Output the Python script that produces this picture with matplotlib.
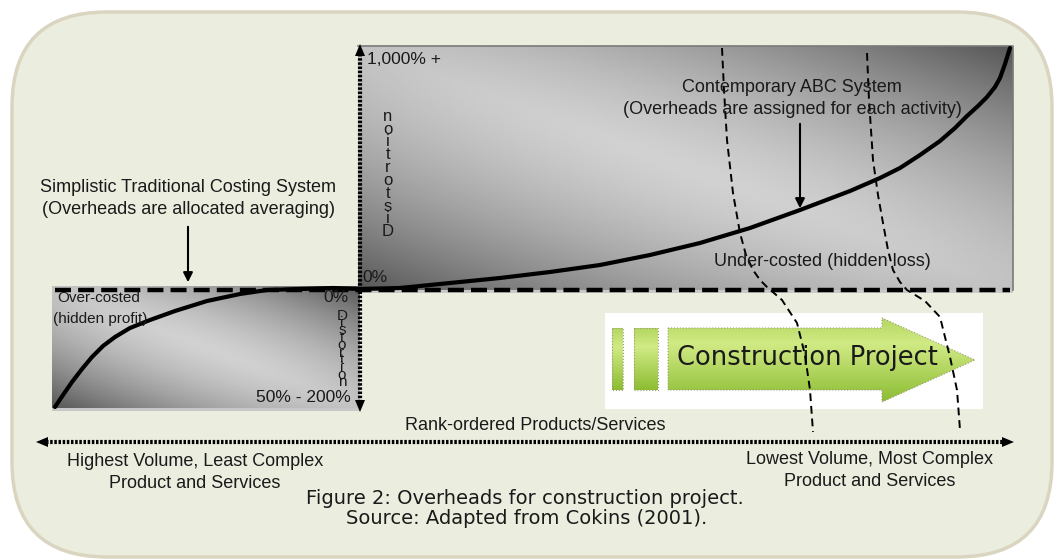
import numpy as np
import matplotlib
matplotlib.use("Agg")
import matplotlib.pyplot as plt
from matplotlib.patches import FancyBboxPatch, Rectangle, Polygon

W, H = 1054, 560

# ABC cost curve (under-costed side), figure pixels
abc_x = [360, 400, 450, 500, 550, 600, 650, 700, 750, 800, 850, 880, 900, 920, 940, 955,
         967, 978, 987, 995, 1000, 1005, 1010]
abc_y = [289, 288, 283, 278, 272, 265, 255, 243, 228, 210, 191, 178, 168, 155, 141, 128,
         116, 106, 97, 87, 78, 64, 48]

# over-costed side of the curve
over_x = [55, 63, 72, 82, 92, 103, 115, 130, 150, 175, 207, 240, 267, 300, 333, 360]
over_y = [407, 395, 382, 369, 357, 346, 337, 328, 320, 311, 301, 294, 290, 289, 288, 289]

# dashed boundaries of the construction project zone
sep1_x = [722, 724, 727, 733, 740, 746, 753, 760, 767, 782, 797, 805, 810, 813]
sep1_y = [48, 90, 140, 193, 233, 255, 270, 280, 287, 300, 323, 355, 390, 432]
sep2_x = [867, 869, 873, 878, 883, 888, 893, 900, 907, 925, 940, 950, 957, 960]
sep2_y = [53, 100, 160, 195, 223, 250, 270, 282, 290, 301, 317, 357, 390, 430]

axis_font = "Liberation Sans"
cap_font = "DejaVu Sans"
ink = "#1a1a1a"

fig = plt.figure(figsize=(W / 100, H / 100), dpi=100)
fig.patch.set_facecolor("white")
ax = fig.add_axes([0, 0, 1, 1])
ax.axis("off")

# outer rounded panel
ax.add_patch(FancyBboxPatch((12, 12), 1040, 545, boxstyle="round,pad=0,rounding_size=95",
                            fc="#EBEDDF", ec="#DAD5C0", lw=2.5, zorder=0))


def gray_box(x0, y0, x1, y1):
    u = np.linspace(0, 1, 300)
    v = np.linspace(0, 1, 150)
    U, V = np.meshgrid(u, v)
    d = np.abs(U - V)
    r = (U - 0.5) ** 2 + (V - 0.5) ** 2
    val = 0.82 - 0.42 * d ** 1.4 - 0.12 * r
    ax.imshow(val, cmap="gray", vmin=0, vmax=1, extent=(x0, x1, y1, y0),
              aspect="auto", interpolation="bilinear", zorder=1)
    # shadow strip under the box
    ax.add_patch(Rectangle((x0, y1), x1 - x0, 3, fc="#c8c8c8", ec="none", zorder=1))


gray_box(358, 46, 1013, 290)
gray_box(52, 286, 360, 408)
ax.plot([358, 1013, 1013], [46, 46, 290], color="#7a7a7a", lw=1.2, zorder=2)

# flat "traditional" line
ax.plot([55, 1010], [290, 290], color="black", lw=3.2, ls=(0, (3.6, 1.6)), zorder=4)

# cost curves
ax.plot(abc_x, abc_y, color="black", lw=3, solid_capstyle="round", solid_joinstyle="round", zorder=5)
ax.plot(over_x, over_y, color="black", lw=3, solid_capstyle="round", solid_joinstyle="round", zorder=5)

# vertical distortion axis
ax.plot([360, 360], [54, 402], color="black", lw=3, ls=(0, (0.6, 0.4)), zorder=6)
ax.add_patch(Polygon([[355, 56], [365, 56], [360, 44]], closed=True, fc="black", zorder=6))
ax.add_patch(Polygon([[355, 400], [365, 400], [360, 412]], closed=True, fc="black", zorder=6))

# horizontal rank axis
ax.plot([46, 1004], [442, 442], color="black", lw=3, ls=(0, (0.6, 0.4)), zorder=6)
ax.add_patch(Polygon([[48, 437], [48, 447], [36, 442]], closed=True, fc="black", zorder=6))
ax.add_patch(Polygon([[1002, 437], [1002, 447], [1014, 442]], closed=True, fc="black", zorder=6))

# construction project graphic
ax.add_patch(Rectangle((605, 313), 378, 96, fc="white", ec="none", zorder=3))
green = np.linspace(0, 1, 100)[:, None] * np.ones((1, 10))
green_img = np.zeros((100, 10, 3))
top_c = np.array([0.82, 0.92, 0.52])
bot_c = np.array([0.55, 0.74, 0.20])
g = np.abs(green - 0.3) / 0.7
for k in range(3):
    green_img[:, :, k] = top_c[k] * (1 - g) + bot_c[k] * g
shapes = [
    [[612, 328], [623, 328], [623, 390], [612, 390]],
    [[634, 328], [658, 328], [658, 390], [634, 390]],
    [[668, 328], [882, 328], [882, 318], [975, 360], [882, 402], [882, 390], [668, 390]],
]
for pts in shapes:
    poly = Polygon(pts, closed=True, fc="none", ec="#9a9a7a", lw=0.8, ls=":", zorder=5)
    ax.add_patch(poly)
    xs = [p[0] for p in pts]
    ys = [p[1] for p in pts]
    im = ax.imshow(green_img, extent=(min(xs), max(xs), max(ys), min(ys)),
                   aspect="auto", interpolation="bilinear", zorder=4)
    im.set_clip_path(poly)
ax.text(807, 358, "Construction Project", fontsize=18.5, family=cap_font, color=ink,
        ha="center", va="center", zorder=6)

# dashed zone boundaries
for sx, sy in [(sep1_x, sep1_y), (sep2_x, sep2_y)]:
    ax.plot(sx, sy, color="black", lw=1.4, ls=(0, (4, 2.5)), zorder=7)

# arrows to the systems
ax.annotate("", xy=(188, 285), xytext=(188, 224),
            arrowprops=dict(arrowstyle="-|>", color="black", lw=1.5, mutation_scale=14), zorder=8)
ax.annotate("", xy=(800, 211), xytext=(800, 121),
            arrowprops=dict(arrowstyle="-|>", color="black", lw=1.5, mutation_scale=14), zorder=8)

tk = dict(family=axis_font, color=ink, zorder=9)
ax.text(188, 187, "Simplistic Traditional Costing System", fontsize=13, ha="center", va="center", **tk)
ax.text(188, 210, "(Overheads are allocated averaging)", fontsize=13, ha="center", va="center", **tk)
ax.text(792, 87, "Contemporary ABC System", fontsize=13, ha="center", va="center", **tk)
ax.text(792, 110, "(Overheads are assigned for each activity)", fontsize=13, ha="center", va="center", **tk)
ax.text(822, 262, "Under-costed (hidden loss)", fontsize=13, ha="center", va="center", **tk)
ax.text(57, 298, "Over-costed", fontsize=11, ha="left", va="center", **tk)
ax.text(53, 319, "(hidden profit)", fontsize=11, ha="left", va="center", **tk)

ax.text(367, 60, "1,000% +", fontsize=12.5, ha="left", va="center", **tk)
ax.text(362, 278, "0%", fontsize=12.5, ha="left", va="center", **tk)
ax.text(349, 297, "0%", fontsize=12.5, ha="right", va="center", **tk)
ax.text(351, 397, "50% - 200%", fontsize=12.5, ha="right", va="center", **tk)

ax.text(388, 174, "\n".join("Distortion"[::-1]), fontsize=12, ha="center", va="center",
        linespacing=0.82, **tk)
ax.text(342, 349, "\n".join("Distortion"), fontsize=11, ha="center", va="center",
        linespacing=0.40, **tk)

ax.text(535, 426, "Rank-ordered Products/Services", fontsize=13, ha="center", va="center", **tk)
ax.text(195, 461, "Highest Volume, Least Complex", fontsize=13, ha="center", va="center", **tk)
ax.text(195, 483, "Product and Services", fontsize=13, ha="center", va="center", **tk)
ax.text(870, 460, "Lowest Volume, Most Complex", fontsize=13, ha="center", va="center", **tk)
ax.text(870, 482, "Product and Services", fontsize=13, ha="center", va="center", **tk)

ax.text(525, 498, "Figure 2: Overheads for construction project.", fontsize=14, family=cap_font,
        color=ink, ha="center", va="center", zorder=9)
ax.text(527, 519, "Source: Adapted from Cokins (2001).", fontsize=14, family=cap_font,
        color=ink, ha="center", va="center", zorder=9)

ax.set_xlim(0, W)
ax.set_ylim(H, 0)
fig.savefig("out.png", dpi=100)
